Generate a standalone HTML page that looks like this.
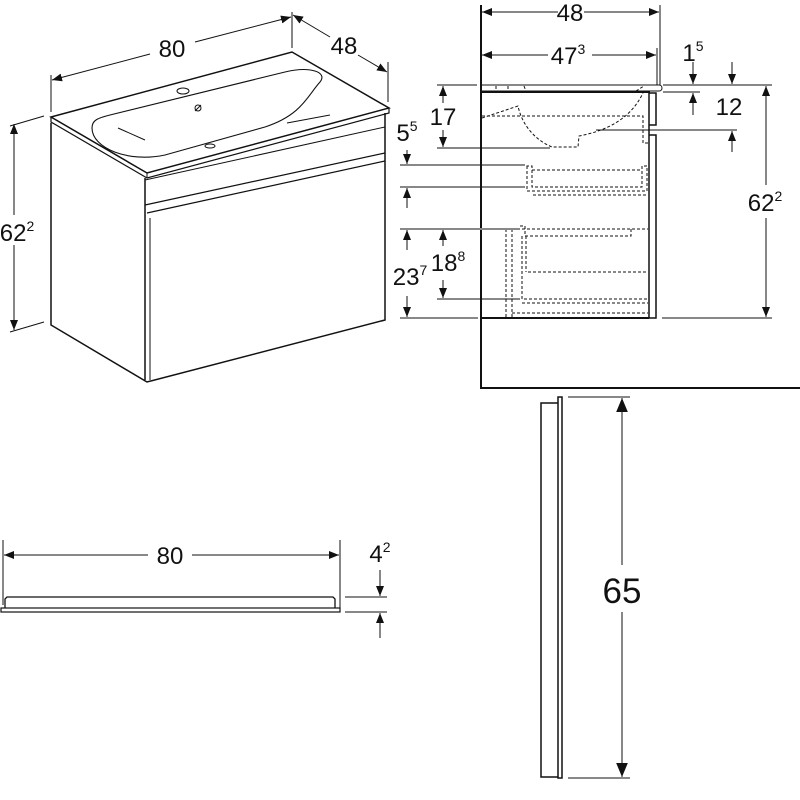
<!DOCTYPE html>
<html><head><meta charset="utf-8"><style>
html,body{margin:0;padding:0;background:#fff}
svg{display:block}
text{font-family:"Liberation Sans",sans-serif;fill:#111}
</style></head><body>
<svg width="800" height="800" viewBox="0 0 800 800" xmlns="http://www.w3.org/2000/svg">
<defs>
<marker id="a" viewBox="0 0 10 8" refX="10" refY="4" markerWidth="10" markerHeight="8" markerUnits="userSpaceOnUse" orient="auto-start-reverse"><path d="M0,0L10,4L0,8z" fill="#111"/></marker>
<marker id="b" viewBox="0 0 12 10" refX="12" refY="5" markerWidth="14" markerHeight="12" markerUnits="userSpaceOnUse" orient="auto-start-reverse"><path d="M0,0L12,5L0,10z" fill="#111"/></marker>
</defs>
<g stroke="#111" fill="none" stroke-width="1">
<!-- ISO VIEW -->
<path d="M51,117 L292,52 L389,108 L147,173 Z" stroke-width="1.5"/>
<path d="M51,117 L51,122 L147,178 L389,113 L389,108" stroke-width="1.2"/>
<path d="M147,173 L147,178"/>
<path d="M51,123 L51,325 L147,382 L385,320 L385,113" stroke-width="1.5"/>
<path d="M145,178 L145,380" stroke-width="1.5"/>
<path d="M145,180 L385,127"/>
<path d="M145,205 L385,153" stroke-width="1.2"/>
<path d="M147,213 L385,161" stroke-width="1.2"/>
<path d="M150,218 L150,380"/>
<!-- basin -->
<path d="M92,128 C92,120 98,118 110,115 L285,72 C310,66 328,72 320,82 C308,95 302,115 265,127 L165,155 C128,163 92,148 92,128 Z" stroke-width="1.1"/>
<path d="M118,128 L145,140"/><path d="M287,123 L330,115"/>
<ellipse cx="183" cy="91" rx="6" ry="3"/>
<circle cx="198" cy="108" r="3"/><path d="M195,111 L201,105"/>
<ellipse cx="210" cy="146" rx="5" ry="2"/>
<!-- dims iso -->
<path d="M51,75 L51,112"/><path d="M292,12 L292,48"/><path d="M388,62 L388,102"/>
<line x1="52" y1="80" x2="150" y2="54" marker-start="url(#a)"/>
<line x1="195" y1="42" x2="291" y2="17" marker-end="url(#a)"/>
<line x1="293" y1="15" x2="330" y2="37" marker-start="url(#a)"/>
<line x1="358" y1="55" x2="387" y2="72" marker-end="url(#a)"/>
<path d="M10,126 L44,116"/><path d="M10,332 L44,322"/>
<line x1="14" y1="124" x2="14" y2="215" marker-start="url(#a)"/>
<line x1="14" y1="245" x2="14" y2="330" marker-end="url(#a)"/>
<!-- SIDE VIEW -->
<path d="M481,5 L481,388 L800,388" stroke-width="2"/>
<path d="M660,5 L660,85"/><path d="M657,48 L657,85"/>
<line x1="482" y1="12" x2="558" y2="12" marker-start="url(#a)"/>
<line x1="584" y1="12" x2="659" y2="12" marker-end="url(#a)"/>
<line x1="482" y1="55" x2="548" y2="55" marker-start="url(#a)"/>
<line x1="592" y1="55" x2="656" y2="55" marker-end="url(#a)"/>
<path d="M481,85 L659,85 C663,85 663,91 659,91 L481,91"/>
<path d="M481,92 L650,92" stroke-width="2"/>
<path d="M649,93 L649,318 M649,93 L656,93 L656,125 L649,125 M649,135 L656,135 L656,318 L649,318" stroke-width="1.5"/>
<path d="M481,318 L649,318" stroke-width="2"/>
<g stroke-dasharray="3,2">
<path d="M496,86 L496,90 M508,86 L508,90 M524,86 L526,91 M636,91 L644,86"/>
<path d="M482,118 L515,107 L518,106 C522,125 535,140 552,147 L578,147 L579,136 C605,131 630,120 643,93"/>
<path d="M482,116 L643,116 L643,143 L649,143"/>
<path d="M527,166 L527,191 L647,191 L647,166 L642,166 L642,187 L532,187 L532,166 Z"/>
<path d="M532,170 L640,170"/>
<path d="M533,195 L647,195"/>
<path d="M507,229 L648,229"/><path d="M520,226 L525,226 L525,236 L631,236 L631,229"/>
<path d="M526,236 L526,272 M528,272 L648,272"/>
<path d="M522,236 L522,299 L648,299 M522,303 L648,303"/>
<path d="M506,229 L506,318 M512,229 L512,318 M512,313 L648,313"/>
</g>
<path d="M450,229 L520,229" stroke="#888" stroke-width="2"/>
<!-- dims side -->
<path d="M437,85 L477,85"/><path d="M437,148 L550,148"/>
<line x1="443" y1="86" x2="443" y2="103" marker-start="url(#a)"/>
<line x1="443" y1="130" x2="443" y2="147" marker-end="url(#a)"/>
<path d="M400,165 L525,165"/><path d="M400,187 L525,187"/>
<line x1="407" y1="150" x2="407" y2="164" marker-end="url(#a)"/>
<line x1="407" y1="188" x2="407" y2="208" marker-start="url(#a)"/>
<path d="M400,229 L450,229"/><path d="M437,299 L520,299"/><path d="M400,318 L478,318"/>
<line x1="407" y1="230" x2="407" y2="250" marker-start="url(#a)"/>
<line x1="407" y1="296" x2="407" y2="317" marker-end="url(#a)"/>
<line x1="443" y1="230" x2="443" y2="246" marker-start="url(#a)"/>
<line x1="443" y1="280" x2="443" y2="298" marker-end="url(#a)"/>
<path d="M663,85 L772,85"/><path d="M663,92 L700,92"/><path d="M596,130 L737,130"/><path d="M662,318 L772,318"/>
<line x1="693" y1="62" x2="693" y2="84" marker-end="url(#a)"/>
<line x1="693" y1="93" x2="693" y2="115" marker-start="url(#a)"/>
<line x1="732" y1="62" x2="732" y2="84" marker-end="url(#a)"/>
<line x1="732" y1="131" x2="732" y2="152" marker-start="url(#a)"/>
<line x1="766" y1="86" x2="766" y2="185" marker-start="url(#a)"/>
<line x1="766" y1="218" x2="766" y2="317" marker-end="url(#a)"/>
<!-- MIRROR TOP VIEW -->
<path d="M3,540 L3,605"/><path d="M340,540 L340,608"/>
<line x1="4" y1="555" x2="148" y2="555" marker-start="url(#a)"/>
<line x1="192" y1="555" x2="339" y2="555" marker-end="url(#a)"/>
<path d="M5,608 L5,599 L7,597 L333,597 L335,599 L335,608" stroke-width="1.3"/>
<rect x="1" y="608" width="339" height="4" stroke-width="1.2"/>
<path d="M345,597 L387,597"/><path d="M345,612 L387,612"/>
<line x1="380" y1="570" x2="380" y2="596" marker-end="url(#a)"/>
<line x1="380" y1="613" x2="380" y2="638" marker-start="url(#a)"/>
<!-- MIRROR SIDE -->
<path d="M558,403 L541,403 L541,777 L558,777" stroke-width="1.5"/>
<rect x="558" y="397" width="4" height="381" stroke-width="1.5"/>
<path d="M568,397 L630,397"/><path d="M568,778 L630,778"/>
<line x1="622" y1="398" x2="622" y2="565" marker-start="url(#b)"/>
<line x1="622" y1="612" x2="622" y2="777" marker-end="url(#b)"/>
</g>
<g font-size="24" text-anchor="middle">
<text x="172" y="57">80</text>
<text x="344" y="54">48</text>
<text x="17" y="241" text-anchor="middle">62<tspan font-size="14" dy="-10">2</tspan></text>
<text x="570" y="21">48</text>
<text x="568" y="64">47<tspan font-size="14" dy="-10">3</tspan></text>
<text x="443" y="125">17</text>
<text x="407" y="141">5<tspan font-size="14" dy="-10">5</tspan></text>
<text x="693" y="61">1<tspan font-size="14" dy="-10">5</tspan></text>
<text x="729" y="115">12</text>
<text x="765" y="211">62<tspan font-size="14" dy="-10">2</tspan></text>
<text x="410" y="285">23<tspan font-size="14" dy="-10">7</tspan></text>
<text x="448" y="271">18<tspan font-size="14" dy="-10">8</tspan></text>
<text x="170" y="564">80</text>
<text x="380" y="562">4<tspan font-size="14" dy="-10">2</tspan></text>
<text x="622" y="603" font-size="35">65</text>
</g>
</svg>
</body></html>
